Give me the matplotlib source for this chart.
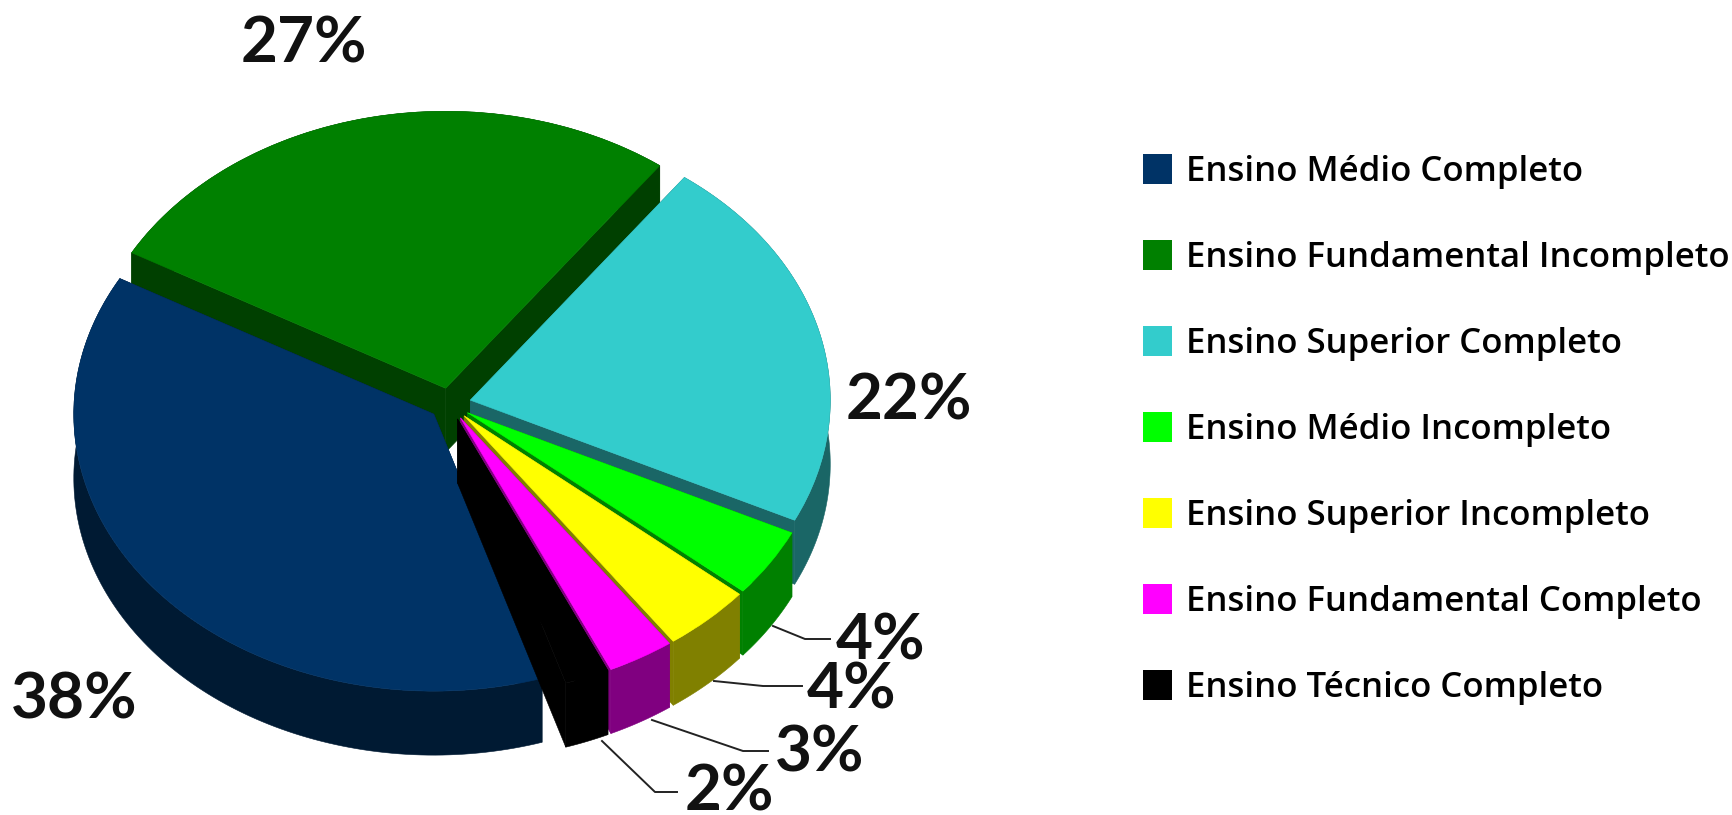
import numpy as np
import matplotlib
matplotlib.use("Agg")
import matplotlib.pyplot as plt
from matplotlib.patches import Rectangle

categories = ["Ensino Médio Completo", "Ensino Fundamental Incompleto", "Ensino Superior Completo",
              "Ensino Médio Incompleto", "Ensino Superior Incompleto", "Ensino Fundamental Completo",
              "Ensino Técnico Completo"]
values = [38, 27, 22, 4, 4, 3, 2]
colors = ["#003366", "#008000", "#33CCCC", "#00FF00", "#FFFF00", "#FF00FF", "#000000"]
side_colors = ["#001A33", "#004000", "#1A6666", "#008000", "#808000", "#800080", "#000000"]
draw_order = [1, 2, 0, 3, 4, 5, 6]
pct_labels = ["38%", "27%", "22%", "4%", "4%", "3%", "2%"]
pct_pos = [(74, 700), (304, 44), (909, 401), (881, 641), (852, 690), (820, 753), (729, 792)]
leaders = [None, None, None,
           [(773, 626), (805, 639), (830, 639)],
           [(714, 681), (763, 686), (802, 686)],
           [(652, 720), (743, 751), (768, 751)],
           [(602, 741), (655, 792), (677, 792)]]

W, H = 1733, 815
CX, CY, RX, RY, DEPTH = 450, 404, 360, 277, 64

fig = plt.figure(figsize=(W / 100, H / 100), dpi=100, facecolor="white")
ax = fig.add_axes([0, 0, 1, 1])
wedges, _ = ax.pie(values, explode=[0.058] * len(values), colors=colors, startangle=287.5,
                   counterclock=False, radius=1, wedgeprops=dict(linewidth=0))
ax.set_aspect("auto")
ax.set_xlim(-CX / RX, (W - CX) / RX)
ax.set_ylim(-(H - CY) / RY, CY / RY)
ax.axis("off")

depth = DEPTH / RY
for rank, i in enumerate(draw_order):
    w = wedges[i]
    cx, cy = w.center
    t = np.radians(np.linspace(w.theta1, w.theta2, 120))
    ox, oy = cx + np.cos(t), cy + np.sin(t)
    z = 2 + rank
    sc = side_colors[i]
    ax.fill(np.r_[ox, ox[::-1]], np.r_[oy, oy[::-1] - depth], fc=sc, ec=sc, lw=0.4, zorder=z)
    for k in (0, -1):
        ax.fill([cx, ox[k], ox[k], cx], [cy, oy[k], oy[k] - depth, cy - depth],
                fc=sc, ec=sc, lw=0.4, zorder=z)
    w.set_zorder(z + 0.5)
    w.set_edgecolor(colors[i])
    w.set_linewidth(0.4)

ov = fig.add_axes([0, 0, 1, 1], facecolor="none", zorder=20)
ov.set_xlim(0, W)
ov.set_ylim(H, 0)
ov.axis("off")

for label, (x, y), lead in zip(pct_labels, pct_pos, leaders):
    ov.text(x, y, label, ha="center", va="center", fontsize=46, fontweight="bold",
            family="Lato", color="#111111")
    if lead:
        ov.plot([p[0] for p in lead], [p[1] for p in lead], color="#222222", lw=1.4)

handles = [Rectangle((0, 0), 1, 1, facecolor=c, edgecolor="none") for c in colors]
fs = 25
leg = ov.legend(handles, categories, loc="upper left", bbox_to_anchor=(1143 / W, 1 - 154 / H),
                bbox_transform=fig.transFigure, frameon=False,
                handlelength=0.84, handleheight=0.95, handletextpad=0.4,
                labelspacing=1.47, borderpad=0, borderaxespad=0,
                prop=dict(family="Open Sans", weight="semibold", size=fs))
fig.savefig("out.png", dpi=100)
